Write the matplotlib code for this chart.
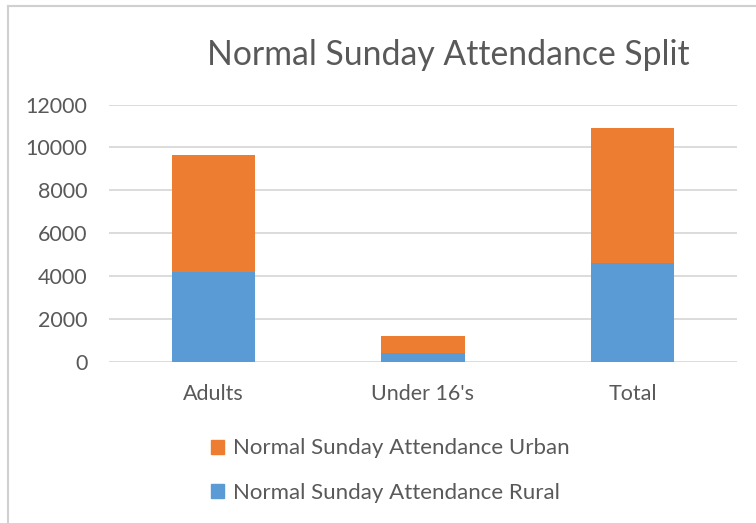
import matplotlib.pyplot as plt
from matplotlib.patches import Patch
import numpy as np

# data
categories = ["Adults", "Under 16's", "Total"]
rural = [4170, 430, 4600]
urban = [5500, 800, 6300]
yticks = [0, 2000, 4000, 6000, 8000, 10000, 12000]

blue = "#5B9BD5"
orange = "#ED7D31"
grey_text = "#595959"

plt.rcParams['font.family'] = ['Lato', 'DejaVu Sans']

fig = plt.figure(figsize=(7.56, 5.23), dpi=100)
ax = fig.add_axes([0.144, 0.308, 0.831, 0.492])

x = np.arange(len(categories))
ax.bar(x, rural, width=0.4, color=blue, zorder=3)
ax.bar(x, urban, width=0.4, bottom=rural, color=orange, zorder=3)

ax.set_xlim(-0.5, 2.5)
ax.set_ylim(0, 12000)
ax.set_yticks(yticks)
ax.set_yticklabels([str(t) for t in yticks])
ax.set_xticks(x)
ax.set_xticklabels(categories)
ax.yaxis.grid(True, color="#D9D9D9", linewidth=1.3, zorder=0)
ax.set_axisbelow(True)
for s in ax.spines.values():
    s.set_visible(False)
ax.tick_params(axis='both', length=0, labelsize=15.5, colors=grey_text)
ax.tick_params(axis='y', pad=15.5)
ax.tick_params(axis='x', pad=16)

fig.text(0.593, 0.895, "Normal Sunday Attendance Split", ha='center', va='center',
         fontsize=24.3, color=grey_text)

handles = [Patch(color=orange, label="Normal Sunday Attendance Urban"),
           Patch(color=blue, label="Normal Sunday Attendance Rural")]
fig.legend(handles=handles, loc='center', bbox_to_anchor=(0.516, 0.100),
           frameon=False, fontsize=16, labelcolor=grey_text,
           handlelength=0.6, handleheight=0.6, handletextpad=0.4,
           labelspacing=1.1)

# chart frame (cropped screenshot edge)
fig.add_artist(plt.Line2D([0.011, 0.011], [0.0, 0.988], color="#D0D0D0", lw=1.5))
fig.add_artist(plt.Line2D([0.011, 1.0], [0.988, 0.988], color="#D0D0D0", lw=1.5))

fig.savefig("out.png", dpi=100)
